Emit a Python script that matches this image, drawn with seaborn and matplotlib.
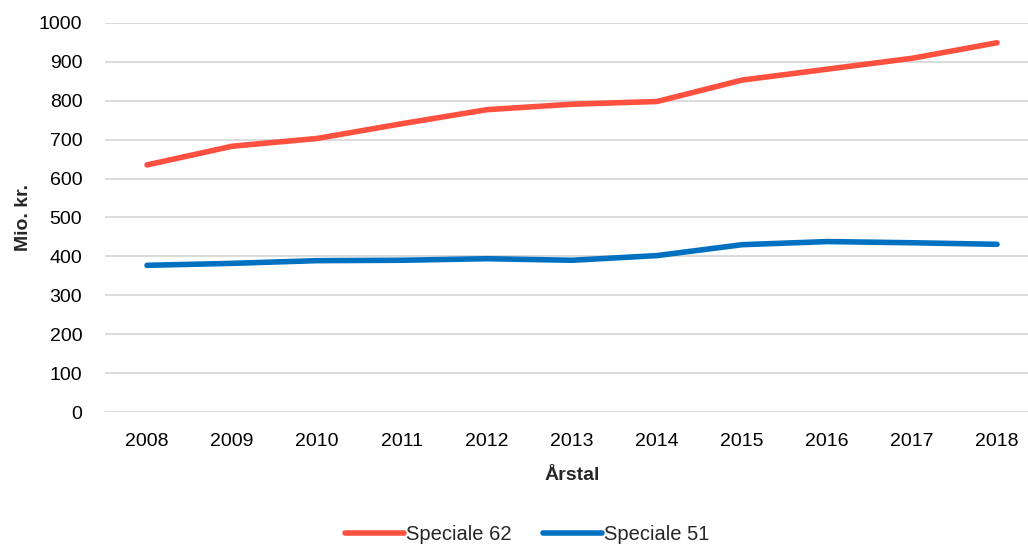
import pandas as pd
import numpy as np
import matplotlib
matplotlib.use("Agg")
import matplotlib.pyplot as plt
import seaborn as sns

# Data (Mio. kr.)
years = ["2008", "2009", "2010", "2011", "2012", "2013", "2014", "2015", "2016", "2017", "2018"]
speciale_62 = [635, 683, 703, 741, 777, 791, 798, 853, 881, 909, 949]
speciale_51 = [377, 382, 389, 390, 394, 390, 402, 430, 438, 435, 431]
series_names = ["Speciale 62", "Speciale 51"]
colours = ["#FF5040", "#0070C0"]

df = pd.DataFrame({
    "Årstal": years * 2,
    "Mio. kr.": speciale_62 + speciale_51,
    "Serie": [series_names[0]] * len(years) + [series_names[1]] * len(years),
})

sns.set_theme(style="white")
plt.rcParams["font.family"] = ["Liberation Sans", "DejaVu Sans"]

fig = plt.figure(figsize=(10.28, 5.45), dpi=100)
ax = fig.add_axes([0.1017, 0.244, 0.9095, 0.714])

sns.lineplot(data=df, x="Årstal", y="Mio. kr.", hue="Serie", palette=colours,
             linewidth=4.0, sort=False, ax=ax)

ax.set_ylim(0, 1000)
ax.set_xlim(-0.5, len(years) - 0.5)
ax.set_yticks(np.arange(0, 1001, 100))
ax.yaxis.grid(True, color="#D9D9D9", linewidth=1.3)
ax.set_axisbelow(True)
for s in ax.spines.values():
    s.set_visible(False)
ax.tick_params(axis="both", labelsize=14, colors="#000000", length=0)
ax.tick_params(axis="y", pad=16)
ax.tick_params(axis="x", pad=15)

ax.set_xlabel("Årstal", fontsize=14, fontweight="bold", labelpad=12)
ax.set_ylabel("Mio. kr.", fontsize=14, fontweight="bold", labelpad=5)

leg = ax.legend(loc="upper center", bbox_to_anchor=(0.452, -0.243), ncol=2,
                frameon=False, fontsize=14.5, handlelength=2.9, handletextpad=0.1,
                columnspacing=1.6)
for line in leg.get_lines():
    line.set_linewidth(4.0)

fig.savefig("out.png", dpi=100)
